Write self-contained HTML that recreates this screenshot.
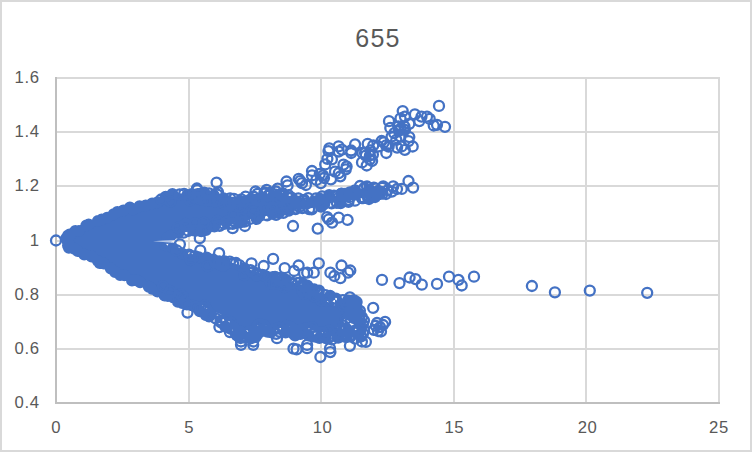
<!DOCTYPE html>
<html><head><meta charset="utf-8"><style>
html,body{margin:0;padding:0;background:#fff;}
svg{display:block;}
.t{font-family:"Liberation Sans",sans-serif;font-size:16.7px;fill:#595959;letter-spacing:0.6px;}
.title{font-family:"Liberation Sans",sans-serif;font-size:25px;fill:#595959;letter-spacing:1.2px;}
</style></head><body>
<svg width="752" height="452" viewBox="0 0 752 452">
<rect x="0" y="0" width="752" height="452" fill="#d9d9d9"/>
<rect x="2" y="2" width="748" height="448" fill="#ffffff"/>
<rect x="55" y="77" width="665" height="2" fill="#d9d9d9"/>
<rect x="55" y="131" width="665" height="2" fill="#d9d9d9"/>
<rect x="55" y="185" width="665" height="2" fill="#d9d9d9"/>
<rect x="55" y="240" width="665" height="2" fill="#d9d9d9"/>
<rect x="55" y="294" width="665" height="2" fill="#d9d9d9"/>
<rect x="55" y="348" width="665" height="2" fill="#d9d9d9"/>
<rect x="188" y="77" width="2" height="327" fill="#d9d9d9"/>
<rect x="320" y="77" width="2" height="327" fill="#d9d9d9"/>
<rect x="453" y="77" width="2" height="327" fill="#d9d9d9"/>
<rect x="585" y="77" width="2" height="327" fill="#d9d9d9"/>
<rect x="718" y="77" width="2" height="327" fill="#d9d9d9"/>
<rect x="55" y="77" width="2" height="327" fill="#bfbfbf"/>
<rect x="55" y="402" width="665" height="2" fill="#bfbfbf"/>
<path fill="#4472c4" d="M71.4 246.9 L71.9 247.0 L72.3 247.1 L72.7 247.3 L73.1 247.6 L77.1 250.1 L77.5 250.3 L77.9 250.6 L78.2 250.9 L80.1 253.0 L85.5 255.7 L91.6 257.3 L92.1 257.4 L92.6 257.6 L93.0 257.8 L93.4 258.1 L99.3 262.5 L106.2 264.5 L106.6 264.7 L107.1 264.9 L107.6 265.1 L108.0 265.4 L108.4 265.8 L108.7 266.2 L112.2 270.5 L117.4 272.3 L117.8 272.4 L125.6 275.8 L125.8 275.9 L132.2 279.1 L136.8 280.8 L137.2 281.0 L137.5 281.2 L137.9 281.4 L142.4 284.6 L149.0 285.5 L149.5 285.6 L150.0 285.8 L150.4 286.0 L150.9 286.2 L151.3 286.5 L151.7 286.8 L156.8 291.5 L164.3 296.1 L170.7 296.5 L171.2 296.6 L171.7 296.7 L172.1 296.8 L172.6 297.0 L173.0 297.2 L173.4 297.5 L179.1 301.8 L185.9 303.3 L186.3 303.4 L186.7 303.6 L187.1 303.7 L197.0 308.7 L197.3 308.9 L197.7 309.2 L204.0 313.8 L200.0 310.9 L200.0 303.6 L200.2 303.7 L200.7 304.0 L201.0 304.2 L201.2 304.3 L207.2 308.7 L214.1 312.2 L217.7 313.1 L217.9 313.2 L218.4 313.3 L218.9 313.5 L219.3 313.7 L219.8 313.9 L220.2 314.1 L220.7 314.4 L221.0 314.6 L221.5 314.9 L221.8 315.2 L222.3 315.5 L222.6 315.8 L222.8 316.0 L227.0 320.3 L234.4 324.0 L234.7 324.1 L235.2 324.4 L235.7 324.8 L236.2 325.1 L236.7 325.6 L237.1 326.0 L237.4 326.2 L242.4 331.5 L242.4 331.5 L242.9 331.3 L243.4 331.1 L243.9 331.0 L244.4 330.8 L244.9 330.7 L245.4 330.6 L245.9 330.6 L246.5 330.5 L247.0 330.5 L247.5 330.5 L248.0 330.5 L248.6 330.6 L249.0 330.7 L249.6 330.8 L250.0 330.9 L250.6 331.1 L251.0 331.3 L251.2 331.3 L252.8 329.2 L253.0 329.0 L253.3 328.7 L253.7 328.3 L254.0 327.9 L254.5 327.6 L254.8 327.3 L255.3 326.9 L255.7 326.7 L256.2 326.4 L256.6 326.2 L257.1 325.9 L257.5 325.7 L258.0 325.6 L258.5 325.4 L259.0 325.3 L259.5 325.2 L260.1 325.1 L260.5 325.0 L261.1 325.0 L261.6 325.0 L262.1 325.0 L262.6 325.1 L262.9 325.1 L271.7 326.2 L272.0 326.2 L272.5 326.3 L273.2 326.5 L273.7 326.6 L274.3 326.9 L274.9 327.1 L275.2 327.2 L276.2 327.7 L277.5 326.8 L277.7 326.7 L278.1 326.5 L278.6 326.2 L279.1 326.0 L279.6 325.8 L280.0 325.6 L280.6 325.4 L281.0 325.3 L281.6 325.2 L282.1 325.1 L282.6 325.0 L283.1 325.0 L283.7 325.0 L284.1 325.0 L284.7 325.1 L285.2 325.1 L285.5 325.2 L291.9 326.3 L292.2 326.3 L292.7 326.4 L293.2 326.6 L293.7 326.7 L294.3 327.0 L294.7 327.2 L295.3 327.5 L295.7 327.7 L296.2 328.0 L296.4 328.2 L296.5 328.2 L296.9 328.0 L297.4 327.8 L297.9 327.7 L298.4 327.5 L298.9 327.4 L299.4 327.3 L299.9 327.3 L300.4 327.2 L300.9 327.2 L301.4 327.2 L301.9 327.2 L302.4 327.3 L302.9 327.4 L303.2 327.4 L314.2 329.6 L314.2 329.6 L314.2 329.6 L314.2 329.6 L324.9 331.8 L333.6 332.7 L335.0 332.4 L335.0 338.5 L342.0 337.1 L342.7 336.0 L345.2 332.0 L337.3 328.0 L344.1 324.0 L343.7 320.0 L348.9 316.0 L348.9 312.0 L348.3 308.0 L344.3 304.0 L341.0 300.9 L339.5 301.0 L339.0 301.0 L338.5 300.9 L338.0 300.8 L337.5 300.7 L337.0 300.5 L336.6 300.3 L331.1 296.9 L326.4 294.0 L321.7 293.1 L321.3 293.0 L320.9 292.9 L315.3 290.7 L314.9 290.5 L314.5 290.3 L309.6 287.3 L304.5 285.8 L304.5 285.8 L299.2 284.1 L290.2 282.0 L290.0 281.9 L279.1 278.7 L268.2 276.4 L267.8 276.3 L267.3 276.1 L256.6 271.8 L245.7 268.6 L245.3 268.5 L244.9 268.3 L234.6 263.2 L229.4 262.6 L229.3 262.6 L221.3 261.5 L221.1 261.4 L209.9 259.4 L209.4 259.3 L208.9 259.1 L208.5 258.9 L204.5 256.8 L197.4 256.0 L197.1 255.9 L189.1 254.4 L188.7 254.3 L188.3 254.2 L181.8 251.9 L181.5 251.8 L174.2 248.7 L169.4 247.0 L168.9 246.9 L168.5 246.6 L168.1 246.4 L167.7 246.1 L167.4 245.8 L167.1 245.4 L166.8 245.0 L166.6 244.6 L166.4 244.2 L166.2 243.7 L166.1 243.3 L166.0 242.8 L166.0 242.3 L166.0 241.5 L166.0 241.0 L166.1 240.5 L166.2 240.0 L166.4 239.5 L166.6 239.1 L166.9 238.7 L167.2 238.3 L167.5 237.9 L167.9 237.6 L168.3 237.3 L168.8 237.0 L169.2 236.8 L174.2 234.9 L174.7 234.8 L180.7 233.2 L180.9 233.1 L186.9 231.7 L187.3 231.7 L187.6 231.6 L196.0 231.0 L204.6 230.0 L210.4 229.2 L214.0 227.2 L214.4 227.0 L214.9 226.8 L223.5 224.0 L224.0 223.9 L224.6 223.8 L232.1 223.2 L243.8 221.1 L251.3 219.0 L251.7 218.9 L262.7 216.7 L262.7 216.7 L273.8 214.5 L284.8 212.3 L284.8 212.3 L295.9 210.1 L295.9 210.1 L299.0 209.5 L299.5 209.4 L310.4 208.3 L320.7 206.7 L329.3 203.6 L329.9 203.4 L337.6 201.7 L338.1 201.6 L338.6 201.6 L339.1 201.6 L339.5 201.7 L340.0 201.8 L340.5 201.9 L340.9 202.1 L341.2 202.3 L350.0 200.5 L361.0 198.3 L361.5 198.2 L372.5 197.1 L379.7 195.8 L382.7 193.0 L382.3 189.3 L381.0 188.1 L373.4 188.5 L362.9 189.4 L352.4 192.5 L351.8 192.6 L340.8 194.3 L345.0 193.7 L345.0 196.0 L325.5 196.0 L330.7 194.7 L322.2 196.8 L321.7 196.9 L310.7 198.5 L310.7 198.6 L300.7 200.0 L300.2 200.0 L299.7 200.0 L299.2 199.9 L298.7 199.8 L298.2 199.7 L297.8 199.5 L290.8 196.0 L278.1 196.0 L274.5 196.0 L251.5 196.0 L248.4 197.2 L247.8 197.4 L247.3 197.5 L240.9 198.5 L234.0 199.9 L233.5 200.0 L233.1 200.0 L232.6 200.0 L226.2 199.5 L225.7 199.4 L225.2 199.3 L224.7 199.1 L216.1 195.6 L216.0 195.6 L210.5 193.1 L206.5 193.5 L202.3 194.0 L201.8 194.0 L201.3 194.0 L200.8 193.9 L200.3 193.8 L199.9 193.6 L199.4 193.4 L199.0 193.2 L198.6 192.9 L198.2 192.6 L195.6 190.0 L195.2 190.1 L191.1 193.5 L190.7 193.8 L190.2 194.0 L189.8 194.2 L189.3 194.4 L188.8 194.5 L188.4 194.6 L187.9 194.6 L187.4 194.6 L186.9 194.5 L181.9 193.5 L177.4 193.0 L173.4 193.8 L168.5 195.7 L164.1 197.7 L159.4 202.1 L159.1 202.4 L158.7 202.7 L158.3 203.0 L157.8 203.1 L157.4 203.3 L156.9 203.4 L156.5 203.5 L151.3 204.0 L146.7 204.8 L141.8 206.7 L141.4 206.8 L136.4 208.3 L136.0 208.4 L135.5 208.5 L135.0 208.5 L134.5 208.5 L130.5 208.1 L122.7 209.9 L117.8 211.4 L112.9 214.4 L112.6 214.6 L107.1 217.4 L106.6 217.6 L106.2 217.7 L101.0 219.2 L96.0 221.8 L95.5 221.9 L95.1 222.1 L89.9 223.6 L84.9 225.7 L79.8 228.7 L77.3 230.4 L77.3 230.5 L72.8 233.5 L72.4 233.7 L71.9 233.9 L71.5 234.1 L71.1 234.2 L70.6 234.3 L70.1 234.3 L67.0 234.4 L67.0 246.8 L70.5 246.8 L71.0 246.8ZM335.0 300.0 L335.0 306.2 L334.7 306.0 L334.1 305.8 L333.7 305.5 L333.4 305.4 L328.0 302.0 L324.7 300.0Z"/><path fill="#4472c4" d="M62.9 247.8a6 6 0 1 0 12 0a6 6 0 1 0-12 0M68.3 248.7a6 6 0 1 0 12 0a6 6 0 1 0-12 0M71.7 250.9a6 6 0 1 0 12 0a6 6 0 1 0-12 0M78.2 254.5a6 6 0 1 0 12 0a6 6 0 1 0-12 0M85.5 256.6a6 6 0 1 0 12 0a6 6 0 1 0-12 0M91.9 260.9a6 6 0 1 0 12 0a6 6 0 1 0-12 0M93.6 262.9a6 6 0 1 0 12 0a6 6 0 1 0-12 0M97.8 263.5a6 6 0 1 0 12 0a6 6 0 1 0-12 0M104.8 268.5a6 6 0 1 0 12 0a6 6 0 1 0-12 0M109.0 272.1a6 6 0 1 0 12 0a6 6 0 1 0-12 0M114.1 274.9a6 6 0 1 0 12 0a6 6 0 1 0-12 0M118.4 275.2a6 6 0 1 0 12 0a6 6 0 1 0-12 0M126.0 280.6a6 6 0 1 0 12 0a6 6 0 1 0-12 0M130.9 280.3a6 6 0 1 0 12 0a6 6 0 1 0-12 0M134.1 282.3a6 6 0 1 0 12 0a6 6 0 1 0-12 0M142.8 286.8a6 6 0 1 0 12 0a6 6 0 1 0-12 0M146.0 288.7a6 6 0 1 0 12 0a6 6 0 1 0-12 0M151.4 291.6a6 6 0 1 0 12 0a6 6 0 1 0-12 0M158.6 295.4a6 6 0 1 0 12 0a6 6 0 1 0-12 0M162.0 296.1a6 6 0 1 0 12 0a6 6 0 1 0-12 0M167.4 297.6a6 6 0 1 0 12 0a6 6 0 1 0-12 0M171.8 301.8a6 6 0 1 0 12 0a6 6 0 1 0-12 0M176.1 303.1a6 6 0 1 0 12 0a6 6 0 1 0-12 0M185.7 305.2a6 6 0 1 0 12 0a6 6 0 1 0-12 0M193.7 311.3a6 6 0 1 0 12 0a6 6 0 1 0-12 0M203.1 316.5a6 6 0 1 0 12 0a6 6 0 1 0-12 0M219.2 326.5a6 6 0 1 0 12 0a6 6 0 1 0-12 0M232.7 336.6a6 6 0 1 0 12 0a6 6 0 1 0-12 0M244.6 338.2a6 6 0 1 0 12 0a6 6 0 1 0-12 0M264.9 332.2a6 6 0 1 0 12 0a6 6 0 1 0-12 0M279.7 332.6a6 6 0 1 0 12 0a6 6 0 1 0-12 0M294.6 334.0a6 6 0 1 0 12 0a6 6 0 1 0-12 0M302.6 335.4a6 6 0 1 0 12 0a6 6 0 1 0-12 0M313.3 337.9a6 6 0 1 0 12 0a6 6 0 1 0-12 0M320.0 338.2a6 6 0 1 0 12 0a6 6 0 1 0-12 0M332.1 337.8a6 6 0 1 0 12 0a6 6 0 1 0-12 0M324.1 295.8a6 6 0 1 0 12 0a6 6 0 1 0-12 0M306.2 289.5a6 6 0 1 0 12 0a6 6 0 1 0-12 0M301.5 286.8a6 6 0 1 0 12 0a6 6 0 1 0-12 0M280.1 279.8a6 6 0 1 0 12 0a6 6 0 1 0-12 0M267.0 277.1a6 6 0 1 0 12 0a6 6 0 1 0-12 0M260.6 276.5a6 6 0 1 0 12 0a6 6 0 1 0-12 0M238.3 268.2a6 6 0 1 0 12 0a6 6 0 1 0-12 0M218.7 261.2a6 6 0 1 0 12 0a6 6 0 1 0-12 0M207.2 259.4a6 6 0 1 0 12 0a6 6 0 1 0-12 0M200.7 257.6a6 6 0 1 0 12 0a6 6 0 1 0-12 0M192.8 257.2a6 6 0 1 0 12 0a6 6 0 1 0-12 0M176.0 253.4a6 6 0 1 0 12 0a6 6 0 1 0-12 0M166.8 247.9a6 6 0 1 0 12 0a6 6 0 1 0-12 0M161.1 237.9a6 6 0 1 0 12 0a6 6 0 1 0-12 0M164.9 235.6a6 6 0 1 0 12 0a6 6 0 1 0-12 0M172.4 232.9a6 6 0 1 0 12 0a6 6 0 1 0-12 0M189.3 230.0a6 6 0 1 0 12 0a6 6 0 1 0-12 0M195.2 231.2a6 6 0 1 0 12 0a6 6 0 1 0-12 0M200.0 230.0a6 6 0 1 0 12 0a6 6 0 1 0-12 0M208.3 226.6a6 6 0 1 0 12 0a6 6 0 1 0-12 0M235.7 221.0a6 6 0 1 0 12 0a6 6 0 1 0-12 0M250.7 219.1a6 6 0 1 0 12 0a6 6 0 1 0-12 0M253.3 216.3a6 6 0 1 0 12 0a6 6 0 1 0-12 0M266.6 213.7a6 6 0 1 0 12 0a6 6 0 1 0-12 0M273.1 212.9a6 6 0 1 0 12 0a6 6 0 1 0-12 0M282.8 210.7a6 6 0 1 0 12 0a6 6 0 1 0-12 0M318.3 204.0a6 6 0 1 0 12 0a6 6 0 1 0-12 0M334.6 203.3a6 6 0 1 0 12 0a6 6 0 1 0-12 0M365.5 197.1a6 6 0 1 0 12 0a6 6 0 1 0-12 0M375.2 191.8a6 6 0 1 0 12 0a6 6 0 1 0-12 0M363.4 189.5a6 6 0 1 0 12 0a6 6 0 1 0-12 0M344.3 193.6a6 6 0 1 0 12 0a6 6 0 1 0-12 0M335.0 193.7a6 6 0 1 0 12 0a6 6 0 1 0-12 0M323.1 195.1a6 6 0 1 0 12 0a6 6 0 1 0-12 0M217.6 198.3a6 6 0 1 0 12 0a6 6 0 1 0-12 0M207.8 195.2a6 6 0 1 0 12 0a6 6 0 1 0-12 0M198.3 192.5a6 6 0 1 0 12 0a6 6 0 1 0-12 0M194.0 193.7a6 6 0 1 0 12 0a6 6 0 1 0-12 0M185.8 194.1a6 6 0 1 0 12 0a6 6 0 1 0-12 0M181.4 194.9a6 6 0 1 0 12 0a6 6 0 1 0-12 0M166.4 194.1a6 6 0 1 0 12 0a6 6 0 1 0-12 0M159.6 196.8a6 6 0 1 0 12 0a6 6 0 1 0-12 0M151.6 202.2a6 6 0 1 0 12 0a6 6 0 1 0-12 0M146.1 203.6a6 6 0 1 0 12 0a6 6 0 1 0-12 0M139.7 205.4a6 6 0 1 0 12 0a6 6 0 1 0-12 0M133.5 206.3a6 6 0 1 0 12 0a6 6 0 1 0-12 0M126.6 209.6a6 6 0 1 0 12 0a6 6 0 1 0-12 0M123.9 207.4a6 6 0 1 0 12 0a6 6 0 1 0-12 0M117.3 210.5a6 6 0 1 0 12 0a6 6 0 1 0-12 0M111.3 211.9a6 6 0 1 0 12 0a6 6 0 1 0-12 0M107.6 214.2a6 6 0 1 0 12 0a6 6 0 1 0-12 0M101.1 217.7a6 6 0 1 0 12 0a6 6 0 1 0-12 0M95.7 219.5a6 6 0 1 0 12 0a6 6 0 1 0-12 0M91.9 220.9a6 6 0 1 0 12 0a6 6 0 1 0-12 0M82.7 224.5a6 6 0 1 0 12 0a6 6 0 1 0-12 0M80.3 225.5a6 6 0 1 0 12 0a6 6 0 1 0-12 0M73.0 231.0a6 6 0 1 0 12 0a6 6 0 1 0-12 0M69.3 230.9a6 6 0 1 0 12 0a6 6 0 1 0-12 0M63.5 234.4a6 6 0 1 0 12 0a6 6 0 1 0-12 0M60.1 238.5a6 6 0 1 0 12 0a6 6 0 1 0-12 0M346.1 312.9a4.5 4.5 0 1 0 9.0 0a4.5 4.5 0 1 0-9.0 0M350.8 316.5a4.5 4.5 0 1 0 9.0 0a4.5 4.5 0 1 0-9.0 0M357.3 330.8a4.5 4.5 0 1 0 9.0 0a4.5 4.5 0 1 0-9.0 0M344.2 300.6a4.5 4.5 0 1 0 9.0 0a4.5 4.5 0 1 0-9.0 0M355.7 337.6a4.5 4.5 0 1 0 9.0 0a4.5 4.5 0 1 0-9.0 0M357.6 321.5a4.5 4.5 0 1 0 9.0 0a4.5 4.5 0 1 0-9.0 0M351.0 310.6a4.5 4.5 0 1 0 9.0 0a4.5 4.5 0 1 0-9.0 0M353.9 309.0a4.5 4.5 0 1 0 9.0 0a4.5 4.5 0 1 0-9.0 0M355.0 332.8a4.5 4.5 0 1 0 9.0 0a4.5 4.5 0 1 0-9.0 0M357.0 332.2a4.5 4.5 0 1 0 9.0 0a4.5 4.5 0 1 0-9.0 0M355.1 333.6a4.5 4.5 0 1 0 9.0 0a4.5 4.5 0 1 0-9.0 0M348.8 311.4a4.5 4.5 0 1 0 9.0 0a4.5 4.5 0 1 0-9.0 0M355.2 334.3a4.5 4.5 0 1 0 9.0 0a4.5 4.5 0 1 0-9.0 0M348.6 319.4a4.5 4.5 0 1 0 9.0 0a4.5 4.5 0 1 0-9.0 0M342.3 334.1a4.5 4.5 0 1 0 9.0 0a4.5 4.5 0 1 0-9.0 0M354.9 320.9a4.5 4.5 0 1 0 9.0 0a4.5 4.5 0 1 0-9.0 0M354.9 313.0a4.5 4.5 0 1 0 9.0 0a4.5 4.5 0 1 0-9.0 0M342.6 327.8a4.5 4.5 0 1 0 9.0 0a4.5 4.5 0 1 0-9.0 0M354.3 324.8a4.5 4.5 0 1 0 9.0 0a4.5 4.5 0 1 0-9.0 0M358.3 327.6a4.5 4.5 0 1 0 9.0 0a4.5 4.5 0 1 0-9.0 0M346.7 332.6a4.5 4.5 0 1 0 9.0 0a4.5 4.5 0 1 0-9.0 0M356.3 313.1a4.5 4.5 0 1 0 9.0 0a4.5 4.5 0 1 0-9.0 0M341.6 302.9a4.5 4.5 0 1 0 9.0 0a4.5 4.5 0 1 0-9.0 0M349.1 304.9a4.5 4.5 0 1 0 9.0 0a4.5 4.5 0 1 0-9.0 0M62.0 235.5a6 6 0 1 0 12 0a6 6 0 1 0-12 0M62.0 238.0a6 6 0 1 0 12 0a6 6 0 1 0-12 0M62.0 240.5a6 6 0 1 0 12 0a6 6 0 1 0-12 0M62.0 243.0a6 6 0 1 0 12 0a6 6 0 1 0-12 0M62.0 245.5a6 6 0 1 0 12 0a6 6 0 1 0-12 0M64.0 235.5a6 6 0 1 0 12 0a6 6 0 1 0-12 0M64.0 245.5a6 6 0 1 0 12 0a6 6 0 1 0-12 0"/>
<path fill="none" stroke="#4472c4" stroke-width="2.3" d="M191.2 306.8a5 5 0 1 0 10 0a5 5 0 1 0-10 0M200.8 314.8a5 5 0 1 0 10 0a5 5 0 1 0-10 0M210.7 318.3a5 5 0 1 0 10 0a5 5 0 1 0-10 0M225.5 328.7a5 5 0 1 0 10 0a5 5 0 1 0-10 0M230.3 332.7a5 5 0 1 0 10 0a5 5 0 1 0-10 0M240.1 337.7a5 5 0 1 0 10 0a5 5 0 1 0-10 0M248.8 337.2a5 5 0 1 0 10 0a5 5 0 1 0-10 0M252.6 334.1a5 5 0 1 0 10 0a5 5 0 1 0-10 0M258.1 330.7a5 5 0 1 0 10 0a5 5 0 1 0-10 0M271.2 333.8a5 5 0 1 0 10 0a5 5 0 1 0-10 0M290.1 335.3a5 5 0 1 0 10 0a5 5 0 1 0-10 0M310.3 336.6a5 5 0 1 0 10 0a5 5 0 1 0-10 0M338.6 335.4a5 5 0 1 0 10 0a5 5 0 1 0-10 0M345.6 336.5a5 5 0 1 0 10 0a5 5 0 1 0-10 0M358.0 333.6a5 5 0 1 0 10 0a5 5 0 1 0-10 0M359.0 320.6a5 5 0 1 0 10 0a5 5 0 1 0-10 0M349.1 300.4a5 5 0 1 0 10 0a5 5 0 1 0-10 0M342.9 300.7a5 5 0 1 0 10 0a5 5 0 1 0-10 0M337.9 300.2a5 5 0 1 0 10 0a5 5 0 1 0-10 0M328.8 298.8a5 5 0 1 0 10 0a5 5 0 1 0-10 0M320.5 295.2a5 5 0 1 0 10 0a5 5 0 1 0-10 0M314.0 290.6a5 5 0 1 0 10 0a5 5 0 1 0-10 0M298.0 284.0a5 5 0 1 0 10 0a5 5 0 1 0-10 0M292.9 283.0a5 5 0 1 0 10 0a5 5 0 1 0-10 0M287.0 282.6a5 5 0 1 0 10 0a5 5 0 1 0-10 0M275.4 277.9a5 5 0 1 0 10 0a5 5 0 1 0-10 0M257.3 275.0a5 5 0 1 0 10 0a5 5 0 1 0-10 0M252.1 273.4a5 5 0 1 0 10 0a5 5 0 1 0-10 0M245.5 270.2a5 5 0 1 0 10 0a5 5 0 1 0-10 0M234.3 265.2a5 5 0 1 0 10 0a5 5 0 1 0-10 0M231.0 263.0a5 5 0 1 0 10 0a5 5 0 1 0-10 0M224.8 261.7a5 5 0 1 0 10 0a5 5 0 1 0-10 0M214.2 261.3a5 5 0 1 0 10 0a5 5 0 1 0-10 0M189.9 256.2a5 5 0 1 0 10 0a5 5 0 1 0-10 0M184.0 254.6a5 5 0 1 0 10 0a5 5 0 1 0-10 0M171.7 250.4a5 5 0 1 0 10 0a5 5 0 1 0-10 0M160.3 245.1a5 5 0 1 0 10 0a5 5 0 1 0-10 0M178.6 232.7a5 5 0 1 0 10 0a5 5 0 1 0-10 0M183.4 230.8a5 5 0 1 0 10 0a5 5 0 1 0-10 0M213.4 225.7a5 5 0 1 0 10 0a5 5 0 1 0-10 0M219.1 223.8a5 5 0 1 0 10 0a5 5 0 1 0-10 0M224.0 223.9a5 5 0 1 0 10 0a5 5 0 1 0-10 0M230.9 222.8a5 5 0 1 0 10 0a5 5 0 1 0-10 0M244.9 219.0a5 5 0 1 0 10 0a5 5 0 1 0-10 0M262.1 215.4a5 5 0 1 0 10 0a5 5 0 1 0-10 0M278.3 212.8a5 5 0 1 0 10 0a5 5 0 1 0-10 0M290.5 209.1a5 5 0 1 0 10 0a5 5 0 1 0-10 0M297.4 208.1a5 5 0 1 0 10 0a5 5 0 1 0-10 0M304.1 209.1a5 5 0 1 0 10 0a5 5 0 1 0-10 0M306.7 209.4a5 5 0 1 0 10 0a5 5 0 1 0-10 0M316.1 206.7a5 5 0 1 0 10 0a5 5 0 1 0-10 0M326.6 203.4a5 5 0 1 0 10 0a5 5 0 1 0-10 0M331.9 202.8a5 5 0 1 0 10 0a5 5 0 1 0-10 0M343.5 201.8a5 5 0 1 0 10 0a5 5 0 1 0-10 0M350.0 200.7a5 5 0 1 0 10 0a5 5 0 1 0-10 0M356.8 198.1a5 5 0 1 0 10 0a5 5 0 1 0-10 0M363.0 197.5a5 5 0 1 0 10 0a5 5 0 1 0-10 0M370.1 196.1a5 5 0 1 0 10 0a5 5 0 1 0-10 0M377.2 187.8a5 5 0 1 0 10 0a5 5 0 1 0-10 0M370.3 188.4a5 5 0 1 0 10 0a5 5 0 1 0-10 0M359.4 187.9a5 5 0 1 0 10 0a5 5 0 1 0-10 0M350.0 190.3a5 5 0 1 0 10 0a5 5 0 1 0-10 0M339.9 193.9a5 5 0 1 0 10 0a5 5 0 1 0-10 0M329.0 195.6a5 5 0 1 0 10 0a5 5 0 1 0-10 0M317.2 196.3a5 5 0 1 0 10 0a5 5 0 1 0-10 0M311.0 198.4a5 5 0 1 0 10 0a5 5 0 1 0-10 0M303.2 198.2a5 5 0 1 0 10 0a5 5 0 1 0-10 0M297.8 200.5a5 5 0 1 0 10 0a5 5 0 1 0-10 0M293.3 198.3a5 5 0 1 0 10 0a5 5 0 1 0-10 0M286.5 197.6a5 5 0 1 0 10 0a5 5 0 1 0-10 0M271.2 191.5a5 5 0 1 0 10 0a5 5 0 1 0-10 0M265.9 192.5a5 5 0 1 0 10 0a5 5 0 1 0-10 0M259.6 192.4a5 5 0 1 0 10 0a5 5 0 1 0-10 0M252.4 193.9a5 5 0 1 0 10 0a5 5 0 1 0-10 0M248.4 196.6a5 5 0 1 0 10 0a5 5 0 1 0-10 0M240.6 196.6a5 5 0 1 0 10 0a5 5 0 1 0-10 0M236.4 199.4a5 5 0 1 0 10 0a5 5 0 1 0-10 0M228.9 198.9a5 5 0 1 0 10 0a5 5 0 1 0-10 0M225.1 198.4a5 5 0 1 0 10 0a5 5 0 1 0-10 0M212.2 194.5a5 5 0 1 0 10 0a5 5 0 1 0-10 0M192.3 190.1a5 5 0 1 0 10 0a5 5 0 1 0-10 0M174.7 194.4a5 5 0 1 0 10 0a5 5 0 1 0-10 0M156.1 199.5a5 5 0 1 0 10 0a5 5 0 1 0-10 0M262.4 331.6a5 5 0 1 0 10 0a5 5 0 1 0-10 0M316.0 300.3a5 5 0 1 0 10 0a5 5 0 1 0-10 0M165.0 291.0a5 5 0 1 0 10 0a5 5 0 1 0-10 0M191.2 230.5a5 5 0 1 0 10 0a5 5 0 1 0-10 0M263.2 199.7a5 5 0 1 0 10 0a5 5 0 1 0-10 0M356.7 197.1a5 5 0 1 0 10 0a5 5 0 1 0-10 0M223.9 324.3a5 5 0 1 0 10 0a5 5 0 1 0-10 0M348.1 193.8a5 5 0 1 0 10 0a5 5 0 1 0-10 0M190.0 223.5a5 5 0 1 0 10 0a5 5 0 1 0-10 0M309.8 296.7a5 5 0 1 0 10 0a5 5 0 1 0-10 0M329.3 301.3a5 5 0 1 0 10 0a5 5 0 1 0-10 0M299.2 293.6a5 5 0 1 0 10 0a5 5 0 1 0-10 0M199.5 307.9a5 5 0 1 0 10 0a5 5 0 1 0-10 0M281.1 284.2a5 5 0 1 0 10 0a5 5 0 1 0-10 0M344.2 197.2a5 5 0 1 0 10 0a5 5 0 1 0-10 0M351.5 331.8a5 5 0 1 0 10 0a5 5 0 1 0-10 0M199.7 305.6a5 5 0 1 0 10 0a5 5 0 1 0-10 0M334.9 201.0a5 5 0 1 0 10 0a5 5 0 1 0-10 0M216.9 262.4a5 5 0 1 0 10 0a5 5 0 1 0-10 0M219.3 203.9a5 5 0 1 0 10 0a5 5 0 1 0-10 0M312.3 293.4a5 5 0 1 0 10 0a5 5 0 1 0-10 0M309.6 296.4a5 5 0 1 0 10 0a5 5 0 1 0-10 0M370.7 193.0a5 5 0 1 0 10 0a5 5 0 1 0-10 0M226.0 202.6a5 5 0 1 0 10 0a5 5 0 1 0-10 0M172.9 227.7a5 5 0 1 0 10 0a5 5 0 1 0-10 0M296.6 331.1a5 5 0 1 0 10 0a5 5 0 1 0-10 0M239.6 221.7a5 5 0 1 0 10 0a5 5 0 1 0-10 0M235.2 206.3a5 5 0 1 0 10 0a5 5 0 1 0-10 0M180.5 226.0a5 5 0 1 0 10 0a5 5 0 1 0-10 0M332.5 195.8a5 5 0 1 0 10 0a5 5 0 1 0-10 0M348.8 307.2a5 5 0 1 0 10 0a5 5 0 1 0-10 0M309.2 289.5a5 5 0 1 0 10 0a5 5 0 1 0-10 0M277.9 329.8a5 5 0 1 0 10 0a5 5 0 1 0-10 0M346.2 192.3a5 5 0 1 0 10 0a5 5 0 1 0-10 0M307.1 327.2a5 5 0 1 0 10 0a5 5 0 1 0-10 0M264.9 330.2a5 5 0 1 0 10 0a5 5 0 1 0-10 0M249.1 330.8a5 5 0 1 0 10 0a5 5 0 1 0-10 0M310.8 331.9a5 5 0 1 0 10 0a5 5 0 1 0-10 0M278.6 279.3a5 5 0 1 0 10 0a5 5 0 1 0-10 0M185.9 255.8a5 5 0 1 0 10 0a5 5 0 1 0-10 0M301.8 203.3a5 5 0 1 0 10 0a5 5 0 1 0-10 0M260.6 209.0a5 5 0 1 0 10 0a5 5 0 1 0-10 0M228.3 215.6a5 5 0 1 0 10 0a5 5 0 1 0-10 0M202.6 266.1a5 5 0 1 0 10 0a5 5 0 1 0-10 0M218.2 265.8a5 5 0 1 0 10 0a5 5 0 1 0-10 0M251.4 275.4a5 5 0 1 0 10 0a5 5 0 1 0-10 0M284.2 202.9a5 5 0 1 0 10 0a5 5 0 1 0-10 0M217.8 263.8a5 5 0 1 0 10 0a5 5 0 1 0-10 0M323.4 330.8a5 5 0 1 0 10 0a5 5 0 1 0-10 0M351.0 312.0a5 5 0 1 0 10 0a5 5 0 1 0-10 0M158.0 286.3a5 5 0 1 0 10 0a5 5 0 1 0-10 0M249.8 333.6a5 5 0 1 0 10 0a5 5 0 1 0-10 0M294.7 203.8a5 5 0 1 0 10 0a5 5 0 1 0-10 0M286.1 327.3a5 5 0 1 0 10 0a5 5 0 1 0-10 0M239.3 275.1a5 5 0 1 0 10 0a5 5 0 1 0-10 0M223.9 204.0a5 5 0 1 0 10 0a5 5 0 1 0-10 0M189.1 197.1a5 5 0 1 0 10 0a5 5 0 1 0-10 0M173.1 297.8a5 5 0 1 0 10 0a5 5 0 1 0-10 0M221.4 221.9a5 5 0 1 0 10 0a5 5 0 1 0-10 0M184.9 200.3a5 5 0 1 0 10 0a5 5 0 1 0-10 0M349.8 305.9a5 5 0 1 0 10 0a5 5 0 1 0-10 0M260.8 214.9a5 5 0 1 0 10 0a5 5 0 1 0-10 0M272.8 278.8a5 5 0 1 0 10 0a5 5 0 1 0-10 0M299.4 200.0a5 5 0 1 0 10 0a5 5 0 1 0-10 0M265.8 283.3a5 5 0 1 0 10 0a5 5 0 1 0-10 0M348.6 331.9a5 5 0 1 0 10 0a5 5 0 1 0-10 0M245.6 199.4a5 5 0 1 0 10 0a5 5 0 1 0-10 0M196.2 230.5a5 5 0 1 0 10 0a5 5 0 1 0-10 0M336.0 336.4a5 5 0 1 0 10 0a5 5 0 1 0-10 0M275.9 280.4a5 5 0 1 0 10 0a5 5 0 1 0-10 0M242.5 333.1a5 5 0 1 0 10 0a5 5 0 1 0-10 0M237.0 221.8a5 5 0 1 0 10 0a5 5 0 1 0-10 0M307.2 208.1a5 5 0 1 0 10 0a5 5 0 1 0-10 0M303.6 291.4a5 5 0 1 0 10 0a5 5 0 1 0-10 0M316.1 204.4a5 5 0 1 0 10 0a5 5 0 1 0-10 0M202.9 315.5a5 5 0 1 0 10 0a5 5 0 1 0-10 0M317.8 332.5a5 5 0 1 0 10 0a5 5 0 1 0-10 0M185.7 260.0a5 5 0 1 0 10 0a5 5 0 1 0-10 0M255.1 198.7a5 5 0 1 0 10 0a5 5 0 1 0-10 0M374.4 194.1a5 5 0 1 0 10 0a5 5 0 1 0-10 0M338.2 305.7a5 5 0 1 0 10 0a5 5 0 1 0-10 0M246.3 199.4a5 5 0 1 0 10 0a5 5 0 1 0-10 0M245.4 338.4a5 5 0 1 0 10 0a5 5 0 1 0-10 0M252.0 199.3a5 5 0 1 0 10 0a5 5 0 1 0-10 0M299.1 286.5a5 5 0 1 0 10 0a5 5 0 1 0-10 0M192.6 194.1a5 5 0 1 0 10 0a5 5 0 1 0-10 0M165.6 201.4a5 5 0 1 0 10 0a5 5 0 1 0-10 0M248.0 272.1a5 5 0 1 0 10 0a5 5 0 1 0-10 0M353.0 331.9a5 5 0 1 0 10 0a5 5 0 1 0-10 0M198.8 222.6a5 5 0 1 0 10 0a5 5 0 1 0-10 0M302.2 285.6a5 5 0 1 0 10 0a5 5 0 1 0-10 0M370.6 188.5a5 5 0 1 0 10 0a5 5 0 1 0-10 0M341.2 337.2a5 5 0 1 0 10 0a5 5 0 1 0-10 0M279.6 287.2a5 5 0 1 0 10 0a5 5 0 1 0-10 0M180.8 224.0a5 5 0 1 0 10 0a5 5 0 1 0-10 0M349.7 194.7a5 5 0 1 0 10 0a5 5 0 1 0-10 0M212.4 221.0a5 5 0 1 0 10 0a5 5 0 1 0-10 0M336.7 193.7a5 5 0 1 0 10 0a5 5 0 1 0-10 0M204.9 200.6a5 5 0 1 0 10 0a5 5 0 1 0-10 0M226.4 223.5a5 5 0 1 0 10 0a5 5 0 1 0-10 0M195.4 308.5a5 5 0 1 0 10 0a5 5 0 1 0-10 0M179.1 193.8a5 5 0 1 0 10 0a5 5 0 1 0-10 0M177.7 296.3a5 5 0 1 0 10 0a5 5 0 1 0-10 0M228.1 263.2a5 5 0 1 0 10 0a5 5 0 1 0-10 0M217.1 265.5a5 5 0 1 0 10 0a5 5 0 1 0-10 0M194.5 194.9a5 5 0 1 0 10 0a5 5 0 1 0-10 0M340.0 195.9a5 5 0 1 0 10 0a5 5 0 1 0-10 0M264.1 194.6a5 5 0 1 0 10 0a5 5 0 1 0-10 0M234.4 201.4a5 5 0 1 0 10 0a5 5 0 1 0-10 0M238.7 201.8a5 5 0 1 0 10 0a5 5 0 1 0-10 0M266.5 207.3a5 5 0 1 0 10 0a5 5 0 1 0-10 0M343.9 200.0a5 5 0 1 0 10 0a5 5 0 1 0-10 0M213.4 263.3a5 5 0 1 0 10 0a5 5 0 1 0-10 0M349.5 302.2a5 5 0 1 0 10 0a5 5 0 1 0-10 0M310.9 201.3a5 5 0 1 0 10 0a5 5 0 1 0-10 0M324.2 330.7a5 5 0 1 0 10 0a5 5 0 1 0-10 0M313.2 291.7a5 5 0 1 0 10 0a5 5 0 1 0-10 0M278.0 193.5a5 5 0 1 0 10 0a5 5 0 1 0-10 0M254.9 324.1a5 5 0 1 0 10 0a5 5 0 1 0-10 0M272.7 198.7a5 5 0 1 0 10 0a5 5 0 1 0-10 0M271.1 283.9a5 5 0 1 0 10 0a5 5 0 1 0-10 0M298.5 285.4a5 5 0 1 0 10 0a5 5 0 1 0-10 0M204.0 315.4a5 5 0 1 0 10 0a5 5 0 1 0-10 0M300.5 291.0a5 5 0 1 0 10 0a5 5 0 1 0-10 0M317.6 204.2a5 5 0 1 0 10 0a5 5 0 1 0-10 0M175.3 294.3a5 5 0 1 0 10 0a5 5 0 1 0-10 0M260.9 208.4a5 5 0 1 0 10 0a5 5 0 1 0-10 0M195.7 196.8a5 5 0 1 0 10 0a5 5 0 1 0-10 0M189.0 230.4a5 5 0 1 0 10 0a5 5 0 1 0-10 0M346.6 310.4a5 5 0 1 0 10 0a5 5 0 1 0-10 0M350.7 308.9a5 5 0 1 0 10 0a5 5 0 1 0-10 0M286.6 332.0a5 5 0 1 0 10 0a5 5 0 1 0-10 0M223.7 203.3a5 5 0 1 0 10 0a5 5 0 1 0-10 0M315.0 199.0a5 5 0 1 0 10 0a5 5 0 1 0-10 0M351.0 315.4a5 5 0 1 0 10 0a5 5 0 1 0-10 0M268.8 329.9a5 5 0 1 0 10 0a5 5 0 1 0-10 0M326.9 339.5a5 5 0 1 0 10 0a5 5 0 1 0-10 0M230.0 203.2a5 5 0 1 0 10 0a5 5 0 1 0-10 0M231.7 335.1a5 5 0 1 0 10 0a5 5 0 1 0-10 0M292.4 201.6a5 5 0 1 0 10 0a5 5 0 1 0-10 0M271.1 214.8a5 5 0 1 0 10 0a5 5 0 1 0-10 0M290.6 208.3a5 5 0 1 0 10 0a5 5 0 1 0-10 0M182.0 304.3a5 5 0 1 0 10 0a5 5 0 1 0-10 0M337.3 194.9a5 5 0 1 0 10 0a5 5 0 1 0-10 0M287.1 201.5a5 5 0 1 0 10 0a5 5 0 1 0-10 0M227.7 223.8a5 5 0 1 0 10 0a5 5 0 1 0-10 0M267.9 209.3a5 5 0 1 0 10 0a5 5 0 1 0-10 0M334.3 333.7a5 5 0 1 0 10 0a5 5 0 1 0-10 0M223.9 205.0a5 5 0 1 0 10 0a5 5 0 1 0-10 0M270.1 276.9a5 5 0 1 0 10 0a5 5 0 1 0-10 0M346.6 334.6a5 5 0 1 0 10 0a5 5 0 1 0-10 0M276.2 198.4a5 5 0 1 0 10 0a5 5 0 1 0-10 0M194.7 199.0a5 5 0 1 0 10 0a5 5 0 1 0-10 0M315.8 201.5a5 5 0 1 0 10 0a5 5 0 1 0-10 0M288.6 334.0a5 5 0 1 0 10 0a5 5 0 1 0-10 0M254.6 200.8a5 5 0 1 0 10 0a5 5 0 1 0-10 0M214.6 225.8a5 5 0 1 0 10 0a5 5 0 1 0-10 0M200.0 200.2a5 5 0 1 0 10 0a5 5 0 1 0-10 0M294.2 207.0a5 5 0 1 0 10 0a5 5 0 1 0-10 0M253.7 324.9a5 5 0 1 0 10 0a5 5 0 1 0-10 0M297.5 290.8a5 5 0 1 0 10 0a5 5 0 1 0-10 0M282.1 206.2a5 5 0 1 0 10 0a5 5 0 1 0-10 0M286.5 329.6a5 5 0 1 0 10 0a5 5 0 1 0-10 0M209.8 201.3a5 5 0 1 0 10 0a5 5 0 1 0-10 0M252.6 325.6a5 5 0 1 0 10 0a5 5 0 1 0-10 0M330.9 298.7a5 5 0 1 0 10 0a5 5 0 1 0-10 0M261.1 328.1a5 5 0 1 0 10 0a5 5 0 1 0-10 0M346.2 309.8a5 5 0 1 0 10 0a5 5 0 1 0-10 0M230.0 329.5a5 5 0 1 0 10 0a5 5 0 1 0-10 0M250.7 336.8a5 5 0 1 0 10 0a5 5 0 1 0-10 0M286.0 283.7a5 5 0 1 0 10 0a5 5 0 1 0-10 0M212.8 200.4a5 5 0 1 0 10 0a5 5 0 1 0-10 0M344.8 192.4a5 5 0 1 0 10 0a5 5 0 1 0-10 0M210.4 262.7a5 5 0 1 0 10 0a5 5 0 1 0-10 0M248.3 211.9a5 5 0 1 0 10 0a5 5 0 1 0-10 0M370.1 197.0a5 5 0 1 0 10 0a5 5 0 1 0-10 0M236.7 218.6a5 5 0 1 0 10 0a5 5 0 1 0-10 0M325.4 202.7a5 5 0 1 0 10 0a5 5 0 1 0-10 0M282.6 197.4a5 5 0 1 0 10 0a5 5 0 1 0-10 0M345.5 321.8a5 5 0 1 0 10 0a5 5 0 1 0-10 0M347.0 315.8a5 5 0 1 0 10 0a5 5 0 1 0-10 0M346.5 301.0a5 5 0 1 0 10 0a5 5 0 1 0-10 0M338.5 328.6a5 5 0 1 0 10 0a5 5 0 1 0-10 0M338.6 331.1a5 5 0 1 0 10 0a5 5 0 1 0-10 0M344.8 314.9a5 5 0 1 0 10 0a5 5 0 1 0-10 0M341.1 328.9a5 5 0 1 0 10 0a5 5 0 1 0-10 0M338.1 325.4a5 5 0 1 0 10 0a5 5 0 1 0-10 0M354.2 317.3a5 5 0 1 0 10 0a5 5 0 1 0-10 0M345.5 334.9a5 5 0 1 0 10 0a5 5 0 1 0-10 0M348.1 307.2a5 5 0 1 0 10 0a5 5 0 1 0-10 0M341.0 303.7a5 5 0 1 0 10 0a5 5 0 1 0-10 0M349.3 316.2a5 5 0 1 0 10 0a5 5 0 1 0-10 0M340.4 319.5a5 5 0 1 0 10 0a5 5 0 1 0-10 0M340.8 334.3a5 5 0 1 0 10 0a5 5 0 1 0-10 0M350.8 316.4a5 5 0 1 0 10 0a5 5 0 1 0-10 0M349.3 306.3a5 5 0 1 0 10 0a5 5 0 1 0-10 0M348.7 302.6a5 5 0 1 0 10 0a5 5 0 1 0-10 0M319.2 335.6a5 5 0 1 0 10 0a5 5 0 1 0-10 0M254.4 331.3a5 5 0 1 0 10 0a5 5 0 1 0-10 0M304.4 328.8a5 5 0 1 0 10 0a5 5 0 1 0-10 0M257.6 330.9a5 5 0 1 0 10 0a5 5 0 1 0-10 0M295.6 332.7a5 5 0 1 0 10 0a5 5 0 1 0-10 0M228.5 327.3a5 5 0 1 0 10 0a5 5 0 1 0-10 0M296.7 329.3a5 5 0 1 0 10 0a5 5 0 1 0-10 0M234.4 333.9a5 5 0 1 0 10 0a5 5 0 1 0-10 0M225.8 322.5a5 5 0 1 0 10 0a5 5 0 1 0-10 0M281.9 327.2a5 5 0 1 0 10 0a5 5 0 1 0-10 0M215.7 321.7a5 5 0 1 0 10 0a5 5 0 1 0-10 0M308.3 334.2a5 5 0 1 0 10 0a5 5 0 1 0-10 0M201.8 309.8a5 5 0 1 0 10 0a5 5 0 1 0-10 0M301.4 328.4a5 5 0 1 0 10 0a5 5 0 1 0-10 0M298.8 332.7a5 5 0 1 0 10 0a5 5 0 1 0-10 0M249.9 335.1a5 5 0 1 0 10 0a5 5 0 1 0-10 0M205.8 314.5a5 5 0 1 0 10 0a5 5 0 1 0-10 0M281.8 325.8a5 5 0 1 0 10 0a5 5 0 1 0-10 0M233.7 331.1a5 5 0 1 0 10 0a5 5 0 1 0-10 0M321.4 301.0a5 5 0 1 0 10 0a5 5 0 1 0-10 0M235.5 338.0a5 5 0 1 0 10 0a5 5 0 1 0-10 0M215.6 320.4a5 5 0 1 0 10 0a5 5 0 1 0-10 0M274.1 327.9a5 5 0 1 0 10 0a5 5 0 1 0-10 0M221.3 320.4a5 5 0 1 0 10 0a5 5 0 1 0-10 0M274.3 328.4a5 5 0 1 0 10 0a5 5 0 1 0-10 0M250.7 335.1a5 5 0 1 0 10 0a5 5 0 1 0-10 0M259.2 325.5a5 5 0 1 0 10 0a5 5 0 1 0-10 0M323.2 337.9a5 5 0 1 0 10 0a5 5 0 1 0-10 0M227.5 329.2a5 5 0 1 0 10 0a5 5 0 1 0-10 0M307.5 334.6a5 5 0 1 0 10 0a5 5 0 1 0-10 0M231.1 331.0a5 5 0 1 0 10 0a5 5 0 1 0-10 0M244.7 331.4a5 5 0 1 0 10 0a5 5 0 1 0-10 0M308.8 333.2a5 5 0 1 0 10 0a5 5 0 1 0-10 0M216.0 322.3a5 5 0 1 0 10 0a5 5 0 1 0-10 0M291.0 331.8a5 5 0 1 0 10 0a5 5 0 1 0-10 0M239.0 336.5a5 5 0 1 0 10 0a5 5 0 1 0-10 0M257.3 329.9a5 5 0 1 0 10 0a5 5 0 1 0-10 0M269.7 194.4a5 5 0 1 0 10 0a5 5 0 1 0-10 0M259.2 193.5a5 5 0 1 0 10 0a5 5 0 1 0-10 0M277.7 195.7a5 5 0 1 0 10 0a5 5 0 1 0-10 0M262.7 195.9a5 5 0 1 0 10 0a5 5 0 1 0-10 0M217.4 322.5a5 5 0 1 0 10 0a5 5 0 1 0-10 0M274.5 331.7a5 5 0 1 0 10 0a5 5 0 1 0-10 0M288.5 331.9a5 5 0 1 0 10 0a5 5 0 1 0-10 0M324.7 337.2a5 5 0 1 0 10 0a5 5 0 1 0-10 0M350.2 338.6a5 5 0 1 0 10 0a5 5 0 1 0-10 0M356.1 336.4a5 5 0 1 0 10 0a5 5 0 1 0-10 0M357.9 324.7a5 5 0 1 0 10 0a5 5 0 1 0-10 0M356.9 317.0a5 5 0 1 0 10 0a5 5 0 1 0-10 0M354.9 310.8a5 5 0 1 0 10 0a5 5 0 1 0-10 0M351.1 305.4a5 5 0 1 0 10 0a5 5 0 1 0-10 0M283.4 195.2a5 5 0 1 0 10 0a5 5 0 1 0-10 0M276.7 193.4a5 5 0 1 0 10 0a5 5 0 1 0-10 0M51.0 240.5a5 5 0 1 0 10 0a5 5 0 1 0-10 0M281.5 181.5a5 5 0 1 0 10 0a5 5 0 1 0-10 0M282.6 185.4a5 5 0 1 0 10 0a5 5 0 1 0-10 0M293.7 178.8a5 5 0 1 0 10 0a5 5 0 1 0-10 0M297.0 183.2a5 5 0 1 0 10 0a5 5 0 1 0-10 0M307.0 171.0a5 5 0 1 0 10 0a5 5 0 1 0-10 0M307.0 175.4a5 5 0 1 0 10 0a5 5 0 1 0-10 0M311.4 179.9a5 5 0 1 0 10 0a5 5 0 1 0-10 0M318.0 175.4a5 5 0 1 0 10 0a5 5 0 1 0-10 0M320.2 164.4a5 5 0 1 0 10 0a5 5 0 1 0-10 0M322.4 158.8a5 5 0 1 0 10 0a5 5 0 1 0-10 0M323.5 151.1a5 5 0 1 0 10 0a5 5 0 1 0-10 0M315.8 183.2a5 5 0 1 0 10 0a5 5 0 1 0-10 0M272.7 188.7a5 5 0 1 0 10 0a5 5 0 1 0-10 0M261.6 189.8a5 5 0 1 0 10 0a5 5 0 1 0-10 0M250.5 191.5a5 5 0 1 0 10 0a5 5 0 1 0-10 0M326.9 159.3a5 5 0 1 0 10 0a5 5 0 1 0-10 0M330.0 171.7a5 5 0 1 0 10 0a5 5 0 1 0-10 0M333.8 173.2a5 5 0 1 0 10 0a5 5 0 1 0-10 0M338.5 164.7a5 5 0 1 0 10 0a5 5 0 1 0-10 0M340.8 169.3a5 5 0 1 0 10 0a5 5 0 1 0-10 0M335.4 176.3a5 5 0 1 0 10 0a5 5 0 1 0-10 0M333.8 151.5a5 5 0 1 0 10 0a5 5 0 1 0-10 0M346.2 153.0a5 5 0 1 0 10 0a5 5 0 1 0-10 0M357.0 162.4a5 5 0 1 0 10 0a5 5 0 1 0-10 0M361.7 165.5a5 5 0 1 0 10 0a5 5 0 1 0-10 0M364.8 159.3a5 5 0 1 0 10 0a5 5 0 1 0-10 0M367.9 154.6a5 5 0 1 0 10 0a5 5 0 1 0-10 0M360.0 153.0a5 5 0 1 0 10 0a5 5 0 1 0-10 0M324.3 148.4a5 5 0 1 0 10 0a5 5 0 1 0-10 0M333.6 146.4a5 5 0 1 0 10 0a5 5 0 1 0-10 0M336.9 149.7a5 5 0 1 0 10 0a5 5 0 1 0-10 0M350.1 144.4a5 5 0 1 0 10 0a5 5 0 1 0-10 0M357.4 153.0a5 5 0 1 0 10 0a5 5 0 1 0-10 0M362.7 143.8a5 5 0 1 0 10 0a5 5 0 1 0-10 0M365.4 150.4a5 5 0 1 0 10 0a5 5 0 1 0-10 0M360.8 155.7a5 5 0 1 0 10 0a5 5 0 1 0-10 0M378.7 142.4a5 5 0 1 0 10 0a5 5 0 1 0-10 0M381.3 153.0a5 5 0 1 0 10 0a5 5 0 1 0-10 0M384.0 121.2a5 5 0 1 0 10 0a5 5 0 1 0-10 0M385.3 127.9a5 5 0 1 0 10 0a5 5 0 1 0-10 0M389.3 133.2a5 5 0 1 0 10 0a5 5 0 1 0-10 0M391.3 139.8a5 5 0 1 0 10 0a5 5 0 1 0-10 0M393.2 126.5a5 5 0 1 0 10 0a5 5 0 1 0-10 0M397.7 111.1a5 5 0 1 0 10 0a5 5 0 1 0-10 0M395.5 118.3a5 5 0 1 0 10 0a5 5 0 1 0-10 0M399.9 116.6a5 5 0 1 0 10 0a5 5 0 1 0-10 0M404.3 123.8a5 5 0 1 0 10 0a5 5 0 1 0-10 0M414.3 121.1a5 5 0 1 0 10 0a5 5 0 1 0-10 0M416.5 116.6a5 5 0 1 0 10 0a5 5 0 1 0-10 0M409.9 114.4a5 5 0 1 0 10 0a5 5 0 1 0-10 0M422.0 116.6a5 5 0 1 0 10 0a5 5 0 1 0-10 0M428.7 125.5a5 5 0 1 0 10 0a5 5 0 1 0-10 0M395.5 128.8a5 5 0 1 0 10 0a5 5 0 1 0-10 0M399.9 129.9a5 5 0 1 0 10 0a5 5 0 1 0-10 0M386.6 136.6a5 5 0 1 0 10 0a5 5 0 1 0-10 0M395.5 136.6a5 5 0 1 0 10 0a5 5 0 1 0-10 0M404.3 137.1a5 5 0 1 0 10 0a5 5 0 1 0-10 0M376.6 141.0a5 5 0 1 0 10 0a5 5 0 1 0-10 0M381.1 145.4a5 5 0 1 0 10 0a5 5 0 1 0-10 0M373.3 146.5a5 5 0 1 0 10 0a5 5 0 1 0-10 0M396.6 146.5a5 5 0 1 0 10 0a5 5 0 1 0-10 0M399.9 149.9a5 5 0 1 0 10 0a5 5 0 1 0-10 0M407.7 146.5a5 5 0 1 0 10 0a5 5 0 1 0-10 0M392.1 147.6a5 5 0 1 0 10 0a5 5 0 1 0-10 0M434.0 105.9a5 5 0 1 0 10 0a5 5 0 1 0-10 0M440.0 126.8a5 5 0 1 0 10 0a5 5 0 1 0-10 0M432.0 124.8a5 5 0 1 0 10 0a5 5 0 1 0-10 0M424.7 118.9a5 5 0 1 0 10 0a5 5 0 1 0-10 0M346.1 150.5a5 5 0 1 0 10 0a5 5 0 1 0-10 0M364.9 155.5a5 5 0 1 0 10 0a5 5 0 1 0-10 0M367.1 161.0a5 5 0 1 0 10 0a5 5 0 1 0-10 0M368.2 145.5a5 5 0 1 0 10 0a5 5 0 1 0-10 0M383.7 146.6a5 5 0 1 0 10 0a5 5 0 1 0-10 0M403.6 141.1a5 5 0 1 0 10 0a5 5 0 1 0-10 0M341.6 166.5a5 5 0 1 0 10 0a5 5 0 1 0-10 0M295.3 180.8a5 5 0 1 0 10 0a5 5 0 1 0-10 0M300.9 185.0a5 5 0 1 0 10 0a5 5 0 1 0-10 0M319.0 178.0a5 5 0 1 0 10 0a5 5 0 1 0-10 0M314.8 173.8a5 5 0 1 0 10 0a5 5 0 1 0-10 0M326.0 179.4a5 5 0 1 0 10 0a5 5 0 1 0-10 0M393.8 131.0a5 5 0 1 0 10 0a5 5 0 1 0-10 0M399.5 126.6a5 5 0 1 0 10 0a5 5 0 1 0-10 0M351.6 192.9a5 5 0 1 0 10 0a5 5 0 1 0-10 0M358.9 188.3a5 5 0 1 0 10 0a5 5 0 1 0-10 0M358.2 198.2a5 5 0 1 0 10 0a5 5 0 1 0-10 0M363.0 193.0a5 5 0 1 0 10 0a5 5 0 1 0-10 0M368.9 187.6a5 5 0 1 0 10 0a5 5 0 1 0-10 0M369.5 195.6a5 5 0 1 0 10 0a5 5 0 1 0-10 0M373.0 191.0a5 5 0 1 0 10 0a5 5 0 1 0-10 0M378.2 186.3a5 5 0 1 0 10 0a5 5 0 1 0-10 0M377.5 193.6a5 5 0 1 0 10 0a5 5 0 1 0-10 0M383.0 190.0a5 5 0 1 0 10 0a5 5 0 1 0-10 0M388.2 186.3a5 5 0 1 0 10 0a5 5 0 1 0-10 0M386.8 191.6a5 5 0 1 0 10 0a5 5 0 1 0-10 0M392.0 189.0a5 5 0 1 0 10 0a5 5 0 1 0-10 0M396.8 188.9a5 5 0 1 0 10 0a5 5 0 1 0-10 0M403.5 181.0a5 5 0 1 0 10 0a5 5 0 1 0-10 0M408.1 187.6a5 5 0 1 0 10 0a5 5 0 1 0-10 0M355.0 186.0a5 5 0 1 0 10 0a5 5 0 1 0-10 0M362.0 186.5a5 5 0 1 0 10 0a5 5 0 1 0-10 0M364.0 199.0a5 5 0 1 0 10 0a5 5 0 1 0-10 0M381.0 194.0a5 5 0 1 0 10 0a5 5 0 1 0-10 0M191.9 188.5a5 5 0 1 0 10 0a5 5 0 1 0-10 0M204.1 193.3a5 5 0 1 0 10 0a5 5 0 1 0-10 0M211.6 182.6a5 5 0 1 0 10 0a5 5 0 1 0-10 0M213.0 192.0a5 5 0 1 0 10 0a5 5 0 1 0-10 0M194.8 238.2a5 5 0 1 0 10 0a5 5 0 1 0-10 0M174.9 244.3a5 5 0 1 0 10 0a5 5 0 1 0-10 0M214.1 253.2a5 5 0 1 0 10 0a5 5 0 1 0-10 0M195.3 250.4a5 5 0 1 0 10 0a5 5 0 1 0-10 0M227.7 228.2a5 5 0 1 0 10 0a5 5 0 1 0-10 0M239.9 226.0a5 5 0 1 0 10 0a5 5 0 1 0-10 0M288.0 226.0a5 5 0 1 0 10 0a5 5 0 1 0-10 0M312.7 228.7a5 5 0 1 0 10 0a5 5 0 1 0-10 0M322.1 217.1a5 5 0 1 0 10 0a5 5 0 1 0-10 0M323.8 219.3a5 5 0 1 0 10 0a5 5 0 1 0-10 0M327.1 222.7a5 5 0 1 0 10 0a5 5 0 1 0-10 0M333.7 217.7a5 5 0 1 0 10 0a5 5 0 1 0-10 0M342.6 219.9a5 5 0 1 0 10 0a5 5 0 1 0-10 0M268.1 258.8a5 5 0 1 0 10 0a5 5 0 1 0-10 0M246.5 263.3a5 5 0 1 0 10 0a5 5 0 1 0-10 0M258.7 266.0a5 5 0 1 0 10 0a5 5 0 1 0-10 0M279.7 268.2a5 5 0 1 0 10 0a5 5 0 1 0-10 0M289.1 271.0a5 5 0 1 0 10 0a5 5 0 1 0-10 0M293.6 265.5a5 5 0 1 0 10 0a5 5 0 1 0-10 0M299.1 273.2a5 5 0 1 0 10 0a5 5 0 1 0-10 0M302.2 272.7a5 5 0 1 0 10 0a5 5 0 1 0-10 0M308.8 272.7a5 5 0 1 0 10 0a5 5 0 1 0-10 0M313.8 263.3a5 5 0 1 0 10 0a5 5 0 1 0-10 0M325.4 272.7a5 5 0 1 0 10 0a5 5 0 1 0-10 0M329.3 276.0a5 5 0 1 0 10 0a5 5 0 1 0-10 0M336.5 265.5a5 5 0 1 0 10 0a5 5 0 1 0-10 0M335.4 278.2a5 5 0 1 0 10 0a5 5 0 1 0-10 0M343.1 272.7a5 5 0 1 0 10 0a5 5 0 1 0-10 0M345.3 270.5a5 5 0 1 0 10 0a5 5 0 1 0-10 0M368.2 307.9a5 5 0 1 0 10 0a5 5 0 1 0-10 0M380.1 321.9a5 5 0 1 0 10 0a5 5 0 1 0-10 0M370.8 325.9a5 5 0 1 0 10 0a5 5 0 1 0-10 0M368.8 329.8a5 5 0 1 0 10 0a5 5 0 1 0-10 0M372.0 323.0a5 5 0 1 0 10 0a5 5 0 1 0-10 0M375.0 327.0a5 5 0 1 0 10 0a5 5 0 1 0-10 0M373.0 331.0a5 5 0 1 0 10 0a5 5 0 1 0-10 0M378.0 325.0a5 5 0 1 0 10 0a5 5 0 1 0-10 0M376.0 331.5a5 5 0 1 0 10 0a5 5 0 1 0-10 0M360.9 341.8a5 5 0 1 0 10 0a5 5 0 1 0-10 0M344.9 345.8a5 5 0 1 0 10 0a5 5 0 1 0-10 0M325.0 348.4a5 5 0 1 0 10 0a5 5 0 1 0-10 0M344.9 297.3a5 5 0 1 0 10 0a5 5 0 1 0-10 0M351.6 302.0a5 5 0 1 0 10 0a5 5 0 1 0-10 0M291.6 349.3a5 5 0 1 0 10 0a5 5 0 1 0-10 0M302.1 348.2a5 5 0 1 0 10 0a5 5 0 1 0-10 0M302.1 344.9a5 5 0 1 0 10 0a5 5 0 1 0-10 0M315.4 357.0a5 5 0 1 0 10 0a5 5 0 1 0-10 0M325.4 352.1a5 5 0 1 0 10 0a5 5 0 1 0-10 0M356.9 341.5a5 5 0 1 0 10 0a5 5 0 1 0-10 0M214.4 327.1a5 5 0 1 0 10 0a5 5 0 1 0-10 0M224.9 332.1a5 5 0 1 0 10 0a5 5 0 1 0-10 0M236.0 344.8a5 5 0 1 0 10 0a5 5 0 1 0-10 0M236.0 341.5a5 5 0 1 0 10 0a5 5 0 1 0-10 0M248.2 344.8a5 5 0 1 0 10 0a5 5 0 1 0-10 0M248.2 341.5a5 5 0 1 0 10 0a5 5 0 1 0-10 0M272.0 338.2a5 5 0 1 0 10 0a5 5 0 1 0-10 0M288.5 348.7a5 5 0 1 0 10 0a5 5 0 1 0-10 0M182.5 312.6a5 5 0 1 0 10 0a5 5 0 1 0-10 0M377.0 279.9a5 5 0 1 0 10 0a5 5 0 1 0-10 0M394.5 283.1a5 5 0 1 0 10 0a5 5 0 1 0-10 0M404.6 277.5a5 5 0 1 0 10 0a5 5 0 1 0-10 0M410.5 279.1a5 5 0 1 0 10 0a5 5 0 1 0-10 0M416.8 284.7a5 5 0 1 0 10 0a5 5 0 1 0-10 0M432.0 283.9a5 5 0 1 0 10 0a5 5 0 1 0-10 0M444.0 276.7a5 5 0 1 0 10 0a5 5 0 1 0-10 0M453.5 279.9a5 5 0 1 0 10 0a5 5 0 1 0-10 0M456.7 285.5a5 5 0 1 0 10 0a5 5 0 1 0-10 0M469.0 276.7a5 5 0 1 0 10 0a5 5 0 1 0-10 0M526.9 286.0a5 5 0 1 0 10 0a5 5 0 1 0-10 0M549.9 292.3a5 5 0 1 0 10 0a5 5 0 1 0-10 0M584.8 290.6a5 5 0 1 0 10 0a5 5 0 1 0-10 0M642.2 292.8a5 5 0 1 0 10 0a5 5 0 1 0-10 0"/>
<path fill="#fff" fill-opacity="0.6" d="M153 241.3L163 240.6L174 240L174 243L163 242Z"/>
<text x="39.6" y="83.2" text-anchor="end" class="t">1.6</text>
<text x="39.6" y="137.2" text-anchor="end" class="t">1.4</text>
<text x="39.6" y="191.2" text-anchor="end" class="t">1.2</text>
<text x="39.6" y="246.2" text-anchor="end" class="t">1</text>
<text x="39.6" y="300.2" text-anchor="end" class="t">0.8</text>
<text x="39.6" y="354.2" text-anchor="end" class="t">0.6</text>
<text x="39.6" y="408.2" text-anchor="end" class="t">0.4</text>
<text x="56.3" y="433" text-anchor="middle" class="t">0</text>
<text x="189.3" y="433" text-anchor="middle" class="t">5</text>
<text x="322.6" y="433" text-anchor="middle" class="t">10</text>
<text x="454.3" y="433" text-anchor="middle" class="t">15</text>
<text x="587.6" y="433" text-anchor="middle" class="t">20</text>
<text x="719" y="433" text-anchor="middle" class="t">25</text>
<text x="378" y="47" text-anchor="middle" class="title">655</text>
</svg>
</body></html>
